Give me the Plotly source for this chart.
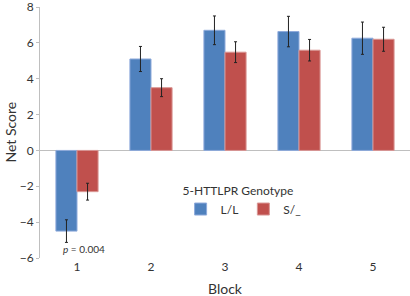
import plotly.graph_objects as go

blocks = ["1", "2", "3", "4", "5"]
ll_values = [-4.5, 5.1, 6.7, 6.63, 6.26]
ll_errors = [0.63, 0.7, 0.8, 0.85, 0.9]
s_values = [-2.3, 3.5, 5.48, 5.59, 6.2]
s_errors = [0.47, 0.5, 0.58, 0.6, 0.67]
y_ticks = [-6, -4, -2, 0, 2, 4, 6, 8]

font = "Lato, Open Sans, sans-serif"

fig = go.Figure()
fig.add_trace(go.Bar(
    x=blocks, y=ll_values, name="L/L",
    marker=dict(color="#4F81BD", line=dict(color="#8EAADB", width=1)),
    error_y=dict(type="data", array=ll_errors, color="#222222", thickness=1, width=1.5),
))
fig.add_trace(go.Bar(
    x=blocks, y=s_values, name="S/_",
    marker=dict(color="#C0504D", line=dict(color="#D99694", width=1)),
    error_y=dict(type="data", array=s_errors, color="#222222", thickness=1, width=1.5),
))

fig.add_annotation(
    x=0, y=-5.5, xref="x", yref="y",
    text="<i>p</i> = 0.004", showarrow=False,
    font=dict(family=font, size=10, color="#333333"), xanchor="center",
    xshift=7,
)
fig.add_annotation(
    x=0.5, y=0, xref="paper", yref="paper", yshift=-30,
    text="Block", showarrow=False, xanchor="center", yanchor="middle",
    font=dict(family=font, size=14, color="#333333"),
)
fig.add_annotation(
    x=0, y=0.5, xref="paper", yref="paper", xshift=-30,
    text="Net Score", showarrow=False, textangle=-90,
    xanchor="center", yanchor="middle",
    font=dict(family=font, size=14, color="#333333"),
)

fig.update_layout(
    width=410, height=296,
    margin=dict(l=40, r=0, t=7, b=38, autoexpand=False),
    paper_bgcolor="white", plot_bgcolor="white",
    barmode="group", bargap=0.43, bargroupgap=0,
    font=dict(family=font, size=12, color="#333333"),
    legend=dict(
        orientation="h", x=0.38, y=0.315, xanchor="left", yanchor="top",
        title=dict(text="5-HTTLPR Genotype", side="top", font=dict(size=12)),
        font=dict(size=12), bgcolor="rgba(0,0,0,0)",
        itemwidth=30, tracegroupgap=0,
    ),
    xaxis=dict(
        automargin=False,
        showline=False, showgrid=False, ticks="",
        tickfont=dict(size=12),
    ),
    yaxis=dict(
        automargin=False,
        range=[-6, 8], tickvals=y_ticks,
        ticklabeloverflow="allow",
        showline=True, linecolor="#BFBFBF", linewidth=1,
        ticks="outside", ticklen=3, tickcolor="#BFBFBF",
        showgrid=False, zeroline=True, zerolinecolor="#BFBFBF", zerolinewidth=1,
        tickfont=dict(size=12),
    ),
)

fig.write_html(
    "out.html",
    config={"displayModeBar": False},
    post_script="document.body.style.margin='0';document.body.style.overflow='hidden';",
)
